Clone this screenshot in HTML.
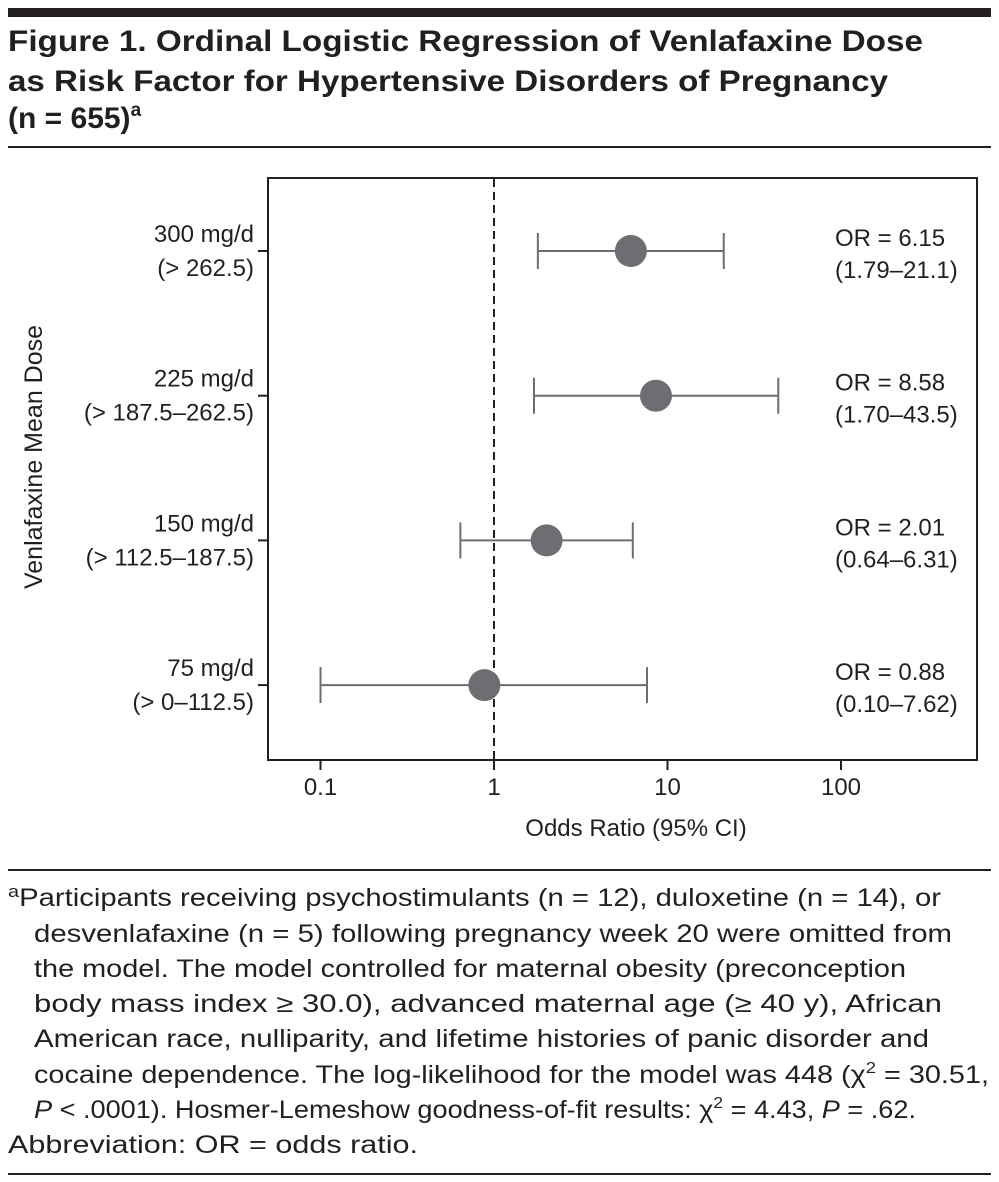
<!DOCTYPE html>
<html><head><meta charset="utf-8"><style>
body{margin:0;background:#fff;}
svg{display:block;font-family:"Liberation Sans",sans-serif;}
</style></head><body>
<svg id="fig" width="999" height="1182" viewBox="0 0 999 1182">
<rect x="8" y="8" width="983" height="9" fill="#231f20"/>
<g font-weight="bold" font-size="30" fill="#231f20">
<text x="8" y="51" textLength="915" lengthAdjust="spacingAndGlyphs">Figure 1. Ordinal Logistic Regression of Venlafaxine Dose</text>
<text x="8" y="91" textLength="880" lengthAdjust="spacingAndGlyphs">as Risk Factor for Hypertensive Disorders of Pregnancy</text>
<text x="8" y="128">(n = 655)<tspan font-size="19" dy="-12">a</tspan></text>
</g>
<line x1="8" y1="147" x2="991" y2="147" stroke="#231f20" stroke-width="2"/>
<rect x="268" y="178" width="709" height="582" fill="none" stroke="#231f20" stroke-width="2"/>
<g id="plot"></g>
<text x="42" y="457" font-size="25" fill="#231f20" text-anchor="middle" transform="rotate(-90 42 457)">Venlafaxine Mean Dose</text>
<text x="636" y="836" font-size="24" fill="#231f20" text-anchor="middle">Odds Ratio (95% CI)</text>
<line x1="8" y1="870" x2="991" y2="870" stroke="#231f20" stroke-width="2"/>
<g font-size="25" fill="#231f20">
<text x="8" y="906" textLength="933" lengthAdjust="spacingAndGlyphs"><tspan font-size="17" dy="-9">a</tspan><tspan dy="9">Participants receiving psychostimulants (n = 12), duloxetine (n = 14), or</tspan></text>
<text x="34" y="942" textLength="918" lengthAdjust="spacingAndGlyphs">desvenlafaxine (n = 5) following pregnancy week 20 were omitted from</text>
<text x="34" y="977" textLength="872" lengthAdjust="spacingAndGlyphs">the model. The model controlled for maternal obesity (preconception</text>
<text x="34" y="1012" textLength="908" lengthAdjust="spacingAndGlyphs">body mass index ≥ 30.0), advanced maternal age (≥ 40 y), African</text>
<text x="34" y="1047" textLength="895" lengthAdjust="spacingAndGlyphs">American race, nulliparity, and lifetime histories of panic disorder and</text>
<text x="34" y="1083" textLength="955" lengthAdjust="spacingAndGlyphs">cocaine dependence. The log-likelihood for the model was 448 (χ<tspan font-size="16" dy="-10">2</tspan><tspan dy="10"> = 30.51,</tspan></text>
<text x="34" y="1118" textLength="882" lengthAdjust="spacingAndGlyphs"><tspan font-style="italic">P</tspan> &lt; .0001). Hosmer-Lemeshow goodness-of-fit results: χ<tspan font-size="16" dy="-10">2</tspan><tspan dy="10"> = 4.43, </tspan><tspan font-style="italic">P</tspan> = .62.</text>
<text x="8" y="1153" textLength="410" lengthAdjust="spacingAndGlyphs">Abbreviation: OR = odds ratio.</text>
</g>
<line x1="8" y1="1174" x2="991" y2="1174" stroke="#231f20" stroke-width="2"/>
</svg>
<script>
const doseLabels = ["300 mg/d","225 mg/d","150 mg/d","75 mg/d"];
const rangeLabels = ["(> 262.5)","(> 187.5–262.5)","(> 112.5–187.5)","(> 0–112.5)"];
const orValues = [6.15, 8.58, 2.01, 0.88];
const lowerCI = [1.79, 1.70, 0.64, 0.10];
const upperCI = [21.1, 43.5, 6.31, 7.62];
const orText = ["OR = 6.15","OR = 8.58","OR = 2.01","OR = 0.88"];
const ciText = ["(1.79–21.1)","(1.70–43.5)","(0.64–6.31)","(0.10–7.62)"];
const xTicks = [0.1, 1, 10, 100];
const xTickLabels = ["0.1","1","10","100"];

const NS="http://www.w3.org/2000/svg";
const g=document.getElementById('plot');
function x(v){return 494+173.5*Math.log10(v);}
function y(i){return 251+i*144.7;}
function mk(tag,attrs,parent){const e=document.createElementNS(NS,tag);for(const k in attrs)e.setAttribute(k,attrs[k]);(parent||g).appendChild(e);return e;}
const ref=mk('line',{x1:x(1),y1:179,x2:x(1),y2:759,stroke:'#231f20','stroke-width':2,'stroke-dasharray':'8,5'});


xTicks.forEach((t,i)=>{
  const tk=mk('line',{x1:x(t),y1:760,x2:x(t),y2:770,stroke:'#231f20','stroke-width':2});
  
  
  const tl=mk('text',{x:x(t),y:795,'font-size':24,fill:'#231f20','text-anchor':'middle'});
  tl.textContent=xTickLabels[i];
  
  
});
doseLabels.forEach((d,i)=>{
  const yy=y(i);
  const tk=mk('line',{x1:258,y1:yy,x2:268,y2:yy,stroke:'#231f20','stroke-width':2});
  
  
  const l1=mk('text',{x:254,y:yy-9,'font-size':24,fill:'#231f20','text-anchor':'end'});
  l1.textContent=d;
  
  
  const l2=mk('text',{x:254,y:yy+25,'font-size':24,fill:'#231f20','text-anchor':'end'});
  l2.textContent=rangeLabels[i];
  
  
  const ci=mk('path',{d:`M${x(lowerCI[i])},${yy-18}V${yy+18}M${x(lowerCI[i])},${yy}H${x(upperCI[i])}M${x(upperCI[i])},${yy-18}V${yy+18}`,stroke:'#6d6e71','stroke-width':2,fill:'none'});
  
  
  const pt=mk('circle',{cx:x(orValues[i]),cy:yy,r:16,fill:'#6d6e71'});
  
  
  const o1=mk('text',{x:835,y:yy-5,'font-size':24,fill:'#231f20'});
  o1.textContent=orText[i];
  
  
  const o2=mk('text',{x:835,y:yy+27,'font-size':24,fill:'#231f20'});
  o2.textContent=ciText[i];
  
  
});
</script>
</body></html>
